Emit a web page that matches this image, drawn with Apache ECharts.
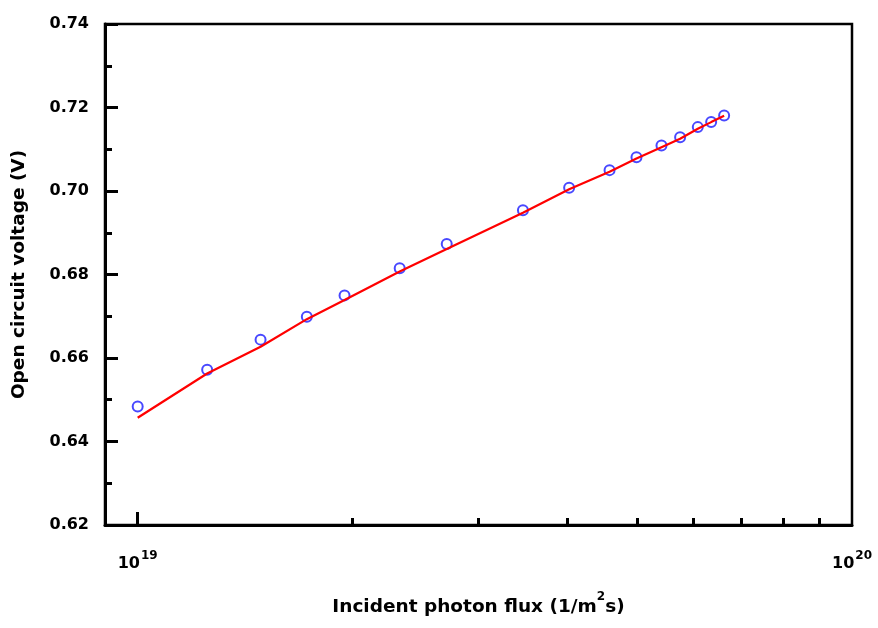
<!DOCTYPE html>
<html>
<head>
<meta charset="utf-8">
<script src="https://cdn.jsdelivr.net/npm/echarts@6/dist/echarts.min.js"></script>
<style>
html,body{margin:0;padding:0;background:#fff;}
#chart{width:878px;height:628px;}
</style>
</head>
<body>
<div id="chart"></div>
<script>
// Incident photon flux, in units of 1e19 1/(m^2 s)
const fluxE19 = [1.00, 1.251, 1.486, 1.725, 1.948, 2.327, 2.708, 3.462, 4.018, 4.577, 4.992, 5.411, 5.746, 6.083, 6.351, 6.622];
// Measured open circuit voltage (V) - blue circles
const vocMeasured = [0.6484, 0.6572, 0.6644, 0.6699, 0.6750, 0.6815, 0.6873, 0.6954, 0.7008, 0.7050, 0.7081, 0.7109, 0.7129, 0.7153, 0.7165, 0.7181];
// Model open circuit voltage (V) - red line
const vocModel = [0.6457, 0.6563, 0.6627, 0.6693, 0.6739, 0.6807, 0.6861, 0.6948, 0.7004, 0.7046, 0.7078, 0.7105, 0.7125, 0.7149, 0.7165, 0.7180];
// Axis settings
const xMinFlux = 0.9e19, xMaxFlux = 1e20;
const xMajorFlux = [1e19];
const xLabelFlux = [1e19, 1e20];
const xMinorFlux = [2e19, 3e19, 4e19, 5e19, 6e19, 7e19, 8e19, 9e19];
const yMin = 0.62, yMax = 0.74, yInterval = 0.02;

const lg = v => Math.log10(v);
const FONT = 'DejaVu Sans';

const measuredData = fluxE19.map((f, i) => [lg(f * 1e19), vocMeasured[i]]);
const modelData = fluxE19.map((f, i) => [lg(f * 1e19), vocModel[i]]);

const gridPos = {left: 105, right: 26, top: 24, bottom: 103};

const chart = echarts.init(document.getElementById('chart'), null, {renderer: 'canvas'});
chart.setOption({
  backgroundColor: '#fff',
  animation: false,
  grid: [
    Object.assign({show: true, borderColor: '#000', borderWidth: 2.5, backgroundColor: 'transparent'}, gridPos),
    Object.assign({show: false}, gridPos)
  ],
  xAxis: [
    {
      type: 'value', gridIndex: 0,
      min: lg(xMinFlux), max: lg(xMaxFlux),
      axisLine: {show: true, onZero: false, lineStyle: {color: '#000', width: 3}},
      axisTick: {show: true, inside: true, length: 13, lineStyle: {color: '#000', width: 3},
                 customValues: xMajorFlux.map(lg)},
      axisLabel: {
        show: true, margin: 25,
        customValues: xLabelFlux.map(lg),
        formatter: v => '{b|10}{s|' + Math.round(v) + '}',
        rich: {
          b: {fontFamily: FONT, fontWeight: 'bold', fontSize: 16, color: '#000', lineHeight: 22, verticalAlign: 'bottom'},
          s: {fontFamily: FONT, fontWeight: 'bold', fontSize: 12, color: '#000', lineHeight: 22, verticalAlign: 'top', padding: [0,0,8,1]}
        }
      },
      splitLine: {show: false},
      name: '{b|Incident photon flux (1/m}{s|2}{b|s)}',
      nameLocation: 'middle', nameGap: 66,
      nameTextStyle: {
        rich: {
          b: {fontFamily: FONT, fontWeight: 'bold', fontSize: 18.5, color: '#000', lineHeight: 26, verticalAlign: 'bottom'},
          s: {fontFamily: FONT, fontWeight: 'bold', fontSize: 12, color: '#000', lineHeight: 26, verticalAlign: 'top', padding: [0,0,10,0]}
        }
      }
    },
    {
      type: 'value', gridIndex: 1,
      min: lg(xMinFlux), max: lg(xMaxFlux),
      axisLine: {show: false, onZero: false},
      axisTick: {show: true, inside: true, length: 7, lineStyle: {color: '#000', width: 3},
                 customValues: xMinorFlux.map(lg)},
      axisLabel: {show: false},
      splitLine: {show: false}
    }
  ],
  yAxis: [
    {
      type: 'value', gridIndex: 0,
      min: yMin, max: yMax, interval: yInterval,
      axisLine: {show: true, onZero: false, lineStyle: {color: '#000', width: 3}},
      axisTick: {show: true, inside: true, length: 13, lineStyle: {color: '#000', width: 3}},
      minorTick: {show: true, splitNumber: 2, length: 7, lineStyle: {color: '#000', width: 3}},
      axisLabel: {show: true, margin: 16, formatter: v => v.toFixed(2),
                  fontFamily: FONT, fontWeight: 'bold', fontSize: 16, color: '#000'},
      splitLine: {show: false},
      minorSplitLine: {show: false},
      name: 'Open circuit voltage (V)',
      nameLocation: 'middle', nameGap: 76,
      nameTextStyle: {fontFamily: FONT, fontWeight: 'bold', fontSize: 18.5, color: '#000'}
    },
    {
      type: 'value', gridIndex: 1, min: yMin, max: yMax, show: false
    }
  ],
  series: [
    {
      type: 'scatter', xAxisIndex: 0, yAxisIndex: 0,
      data: measuredData,
      symbol: 'emptyCircle', symbolSize: 10,
      itemStyle: {color: '#1a1aff', borderWidth: 1.5},
      z: 2
    },
    {
      type: 'line', xAxisIndex: 0, yAxisIndex: 0,
      data: modelData,
      showSymbol: false, symbol: 'none',
      lineStyle: {color: '#ff0000', width: 2.2},
      z: 3
    }
  ]
});
</script>
</body>
</html>
